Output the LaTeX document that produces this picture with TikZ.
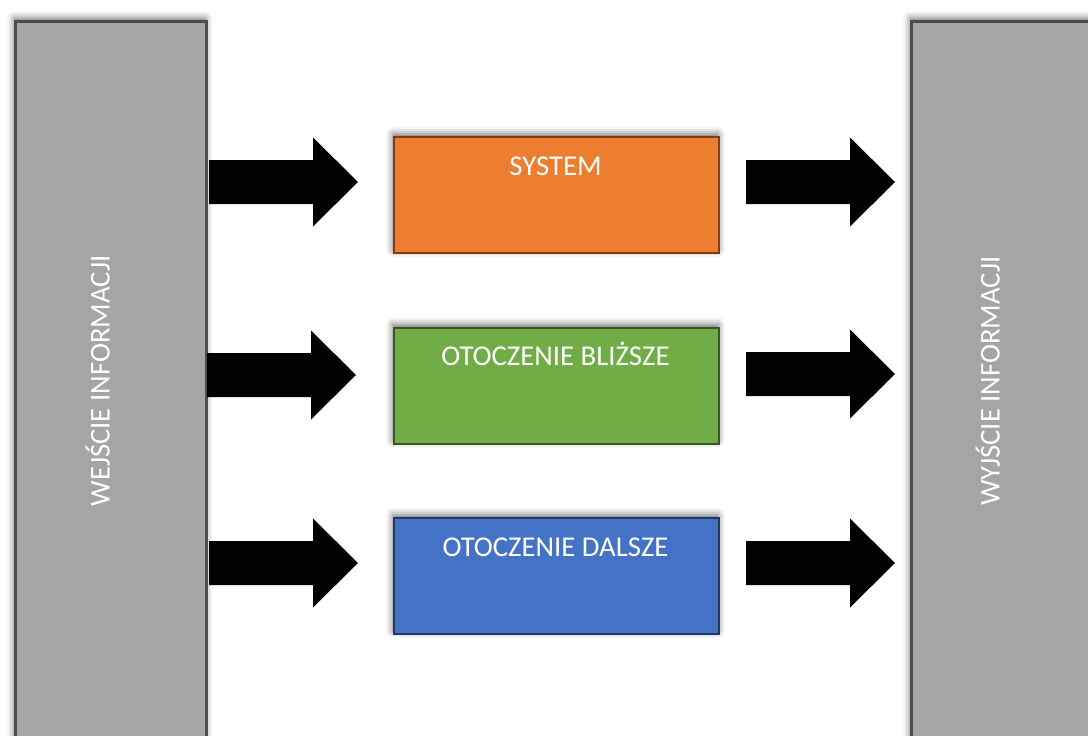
\documentclass[tikz,border=0pt]{standalone}
\usepackage{fontspec}
\setmainfont{Carlito}
\usetikzlibrary{shadows.blur}
\definecolor{barfill}{HTML}{A5A5A5}
\definecolor{barline}{HTML}{4D4D4D}
\definecolor{orfill}{HTML}{ED7D31}
\definecolor{orline}{HTML}{843C0C}
\definecolor{grfill}{HTML}{70AD47}
\definecolor{grline}{HTML}{385723}
\definecolor{blfill}{HTML}{4472C4}
\definecolor{blline}{HTML}{203864}
\tikzset{
  softshadow/.style={blur shadow={shadow xshift=-1pt, shadow yshift=3pt, shadow blur radius=7pt, shadow opacity=60}},
  bar/.style={draw=barline, fill=barfill, line width=2.5pt, rectangle, inner sep=0pt, minimum width=191pt, minimum height=740pt, anchor=north west, softshadow},
  box/.style={rectangle, line width=2pt, inner sep=0pt, minimum width=325pt, minimum height=116pt, anchor=north west, softshadow},
  lbl/.style={text=white, font=\fontsize{28.7}{34}\selectfont, inner sep=0pt, anchor=base},
  vlbl/.style={text=white, font=\fontsize{28.7}{34}\selectfont, inner sep=0pt, anchor=base, rotate=90},
  arrowfill/.style={fill=black}
}
\newcommand\myarrow[2]{\fill[arrowfill] (#1,#2) ++(0,-22) -- ++(104,0) -- ++(0,-22.5) -- ++(45,44.5) -- ++(-45,44.5) -- ++(0,-22.5) -- ++(-104,0) -- cycle;}
\begin{document}
\begin{tikzpicture}[x=1pt,y=-1pt]
\useasboundingbox (0,0) rectangle (1088,736);
% side bars
\node[bar] (in) at (14,20) {};
\node[bar] (out) at (910,20) {};
\node[vlbl] (intext) at (109.5,381) {WEJŚCIE INFORMACJI};
\node[vlbl] (outtext) at (999.5,381) {WYJŚCIE INFORMACJI};
% centre boxes
\node[box, draw=orline, fill=orfill] (sys) at (393,136) {};
\node[box, draw=grline, fill=grfill] (near) at (393,326.5) {};
\node[box, draw=blline, fill=blfill] (far) at (393,517) {};
\node[lbl] (systext) at (555.5,175) {SYSTEM};
\node[lbl] (neartext) at (555.5,365) {OTOCZENIE BLIŻSZE};
\node[lbl] (fartext) at (555.5,556) {OTOCZENIE DALSZE};
% block arrows
\myarrow{209}{182}
\myarrow{207}{375}
\myarrow{209}{563}
\myarrow{746}{182}
\myarrow{746}{374}
\myarrow{746}{563}
\end{tikzpicture}
\end{document}
